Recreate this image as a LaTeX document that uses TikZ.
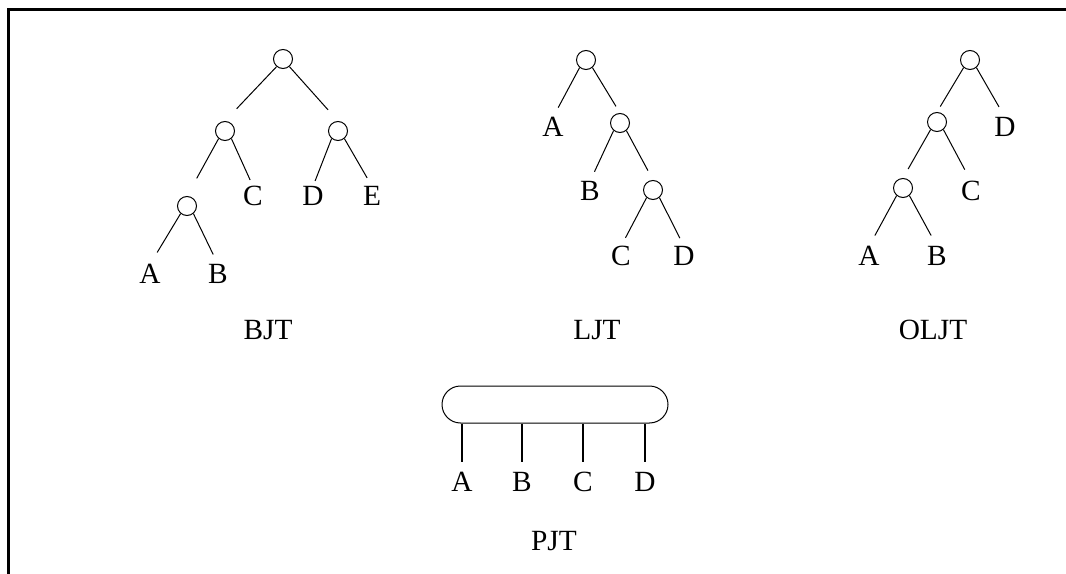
\documentclass[tikz,border=0pt]{standalone}
\usepackage{fontspec}
\setmainfont{Liberation Serif}
\usetikzlibrary{calc}
\begin{document}
\begin{tikzpicture}[x=0.75pt,y=-0.75pt,
  jn/.style={circle,draw,line width=0.75pt,minimum size=14.25pt,inner sep=0pt},
  lbl/.style={inner sep=0pt,outer sep=0pt,text height=14.5pt,text depth=0pt,font=\fontsize{22}{26}\selectfont},
  edge/.style={line width=0.75pt},
  leg/.style={line width=1.5pt,shorten >=7.5pt}]
\useasboundingbox (0,0) rectangle (1066,574);
\draw[line width=2.25pt] (8.5,574) -- (8.5,9.5) -- (1066,9.5);
% BJT
\node[jn] (b1) at (283,59) {};
\node[jn] (b2) at (225,131) {};
\node[jn] (b3) at (338,131) {};
\node[jn] (b4) at (187,206) {};
\node[lbl] (bA) at (150,274) {A};
\node[lbl] (bB) at (218,274) {B};
\node[lbl] (bC) at (253,196) {C};
\node[lbl] (bD) at (313,196) {D};
\node[lbl] (bE) at (372,196) {E};
\node[lbl] (bjt) at (268,330) {BJT};
\draw[edge] (b1.-130) -- ($(b1.-130)!43.5pt!(b2.north)$);
\draw[edge] (b1.-50) -- ($(b1.-50)!43.5pt!(b3.north)$);
\draw[edge] (b2.-130) -- ($(b2.-130)!34pt!(b4.north)$);
\draw[edge] (b2.-50) -- ($(b2.-50)!34pt!(bC.north)$);
\draw[edge] (b3.-130) -- ($(b3.-130)!34pt!(bD.north)$);
\draw[edge] (b3.-50) -- ($(b3.-50)!34pt!(bE.north)$);
\draw[edge] (b4.-130) -- ($(b4.-130)!34pt!(bA.north)$);
\draw[edge] (b4.-50) -- ($(b4.-50)!34pt!(bB.north)$);
% LJT
\node[jn] (l1) at (586,60) {};
\node[jn] (l2) at (620,123) {};
\node[jn] (l3) at (653,190) {};
\node[lbl] (lA) at (553,127) {A};
\node[lbl] (lB) at (590,191) {B};
\node[lbl] (lC) at (621,256) {C};
\node[lbl] (lD) at (684,256) {D};
\node[lbl] (ljt) at (597,330) {LJT};
\draw[edge] (l1.-130) -- ($(l1.-130)!34pt!(lA.north)$);
\draw[edge] (l1.-50) -- ($(l1.-50)!34pt!(l2.north)$);
\draw[edge] (l2.-130) -- ($(l2.-130)!34pt!(lB.north)$);
\draw[edge] (l2.-50) -- ($(l2.-50)!34pt!(l3.north)$);
\draw[edge] (l3.-130) -- ($(l3.-130)!34pt!(lC.north)$);
\draw[edge] (l3.-50) -- ($(l3.-50)!34pt!(lD.north)$);
% OLJT
\node[jn] (o1) at (970,60) {};
\node[jn] (o2) at (937,122) {};
\node[jn] (o3) at (903,188) {};
\node[lbl] (oD) at (1005,127) {D};
\node[lbl] (oC) at (971,191) {C};
\node[lbl] (oA) at (869,256) {A};
\node[lbl] (oB) at (937,256) {B};
\node[lbl] (oljt) at (933,330) {OLJT};
\draw[edge] (o1.-130) -- ($(o1.-130)!34pt!(o2.north)$);
\draw[edge] (o1.-50) -- ($(o1.-50)!34pt!(oD.north)$);
\draw[edge] (o2.-130) -- ($(o2.-130)!34pt!(o3.north)$);
\draw[edge] (o2.-50) -- ($(o2.-50)!34pt!(oC.north)$);
\draw[edge] (o3.-130) -- ($(o3.-130)!34pt!(oA.north)$);
\draw[edge] (o3.-50) -- ($(o3.-50)!34pt!(oB.north)$);
% PJT
\node[draw,line width=0.75pt,rounded corners=13.9pt,minimum width=169.5pt,minimum height=27.75pt,inner sep=0pt] (bar) at (555,404.5) {};
\node[lbl] (pA) at (462,482) {A};
\node[lbl] (pB) at (522,482) {B};
\node[lbl] (pC) at (583,482) {C};
\node[lbl] (pD) at (645,482) {D};
\node[lbl] (pjt) at (554,541) {PJT};
\draw[leg] (pA |- bar.south) -- (pA.north);
\draw[leg] (pB |- bar.south) -- (pB.north);
\draw[leg] (pC |- bar.south) -- (pC.north);
\draw[leg] (pD |- bar.south) -- (pD.north);
\end{tikzpicture}
\end{document}
